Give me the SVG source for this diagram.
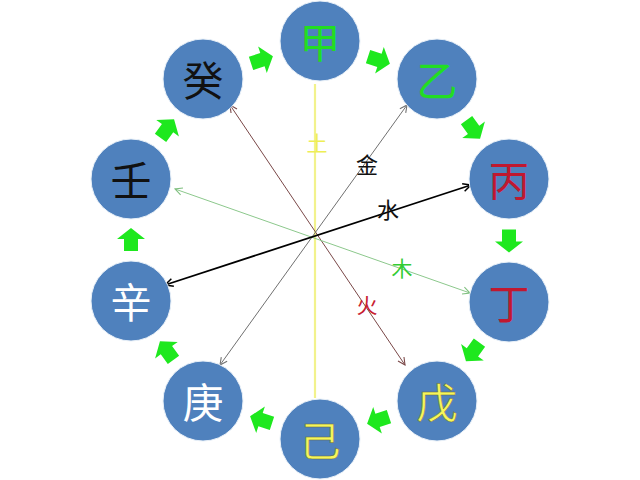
<svg xmlns="http://www.w3.org/2000/svg" width="640" height="480" viewBox="0 0 640 480">
  <style>
    .node circle { fill: #4f81bd; stroke: #e8f0f8; stroke-width: 1; }
    .node text { font-family: "Noto Sans CJK SC", "Noto Sans CJK JP", sans-serif; font-size: 41px; text-anchor: middle; dominant-baseline: central; }
    .lbl { font-family: "Noto Sans CJK SC", "Noto Sans CJK JP", sans-serif; text-anchor: middle; dominant-baseline: central; }
    .flow { fill: #1ee81e; }
    .ln { fill: none; }
  </style>
  <defs>
    <marker id="ahb" viewBox="0 0 10 10" refX="9" refY="5" markerWidth="10" markerHeight="10" markerUnits="userSpaceOnUse" orient="auto-start-reverse">
      <path d="M1,1 L9,5 L1,9" fill="none" stroke="#000" stroke-width="1.5"/>
    </marker>
    <marker id="ahbr" viewBox="0 0 10 10" refX="9" refY="5" markerWidth="9" markerHeight="9" markerUnits="userSpaceOnUse" orient="auto-start-reverse">
      <path d="M1,1 L9,5 L1,9" fill="none" stroke="#7a4848" stroke-width="1.2"/>
    </marker>
    <marker id="ahg" viewBox="0 0 10 10" refX="9" refY="5" markerWidth="9" markerHeight="9" markerUnits="userSpaceOnUse" orient="auto-start-reverse">
      <path d="M1,1 L9,5 L1,9" fill="none" stroke="#707070" stroke-width="1.2"/>
    </marker>
    <marker id="ahgr" viewBox="0 0 10 10" refX="9" refY="5" markerWidth="9" markerHeight="9" markerUnits="userSpaceOnUse" orient="auto-start-reverse">
      <path d="M1,1 L9,5 L1,9" fill="none" stroke="#7fbf7f" stroke-width="1.2"/>
    </marker>
    <path id="blk" d="M-11,-7 L1,-7 L1,-14 L12,0 L1,14 L1,7 L-11,7 Z"/>
  </defs>

  <rect width="640" height="480" fill="#ffffff"/>

  <g id="connectors">
    <line class="ln" x1="315" y1="84" x2="315" y2="398" stroke="#f2f28c" stroke-width="2.2"/>
    <line class="ln" x1="230" y1="105" x2="405" y2="365" stroke="#7a4848" stroke-width="1" marker-start="url(#ahbr)" marker-end="url(#ahbr)"/>
    <line class="ln" x1="407" y1="105" x2="220" y2="365" stroke="#707070" stroke-width="1" marker-start="url(#ahg)" marker-end="url(#ahg)"/>
    <line class="ln" x1="175" y1="189" x2="470" y2="293" stroke="#8cc88c" stroke-width="1" marker-start="url(#ahgr)" marker-end="url(#ahgr)"/>
    <line class="ln" x1="165" y1="285" x2="471" y2="185" stroke="#000000" stroke-width="1.8" marker-start="url(#ahb)" marker-end="url(#ahb)"/>

    <text class="lbl" x="317" y="142" font-size="21" fill="#eeee55">土</text>
    <text class="lbl" x="367" y="163" font-size="22" fill="#111111">金</text>
    <text class="lbl" x="388" y="208" font-size="22" fill="#111111">水</text>
    <text class="lbl" x="402" y="267" font-size="21" fill="#33cc33">木</text>
    <text class="lbl" x="367" y="304" font-size="21" fill="#c82030">火</text>

    <g id="flow-arrows" class="flow">
      <use href="#blk" transform="translate(261.5,60) rotate(-18)"/>
      <use href="#blk" transform="translate(378.5,60) rotate(18)"/>
      <use href="#blk" transform="translate(473,129) rotate(54)"/>
      <use href="#blk" transform="translate(509,240.5) rotate(90)"/>
      <use href="#blk" transform="translate(473,351.5) rotate(126)"/>
      <use href="#blk" transform="translate(378.5,420) rotate(162)"/>
      <use href="#blk" transform="translate(261.5,420) rotate(198)"/>
      <use href="#blk" transform="translate(167,351) rotate(234)"/>
      <use href="#blk" transform="translate(131,240) rotate(270)"/>
      <use href="#blk" transform="translate(167,129) rotate(306)"/>
    </g>
  </g>

  <g id="node-jia" class="node"><circle cx="320" cy="41" r="40"/><text x="320" y="40" fill="#22dd22">甲</text></g>
  <g id="node-yi" class="node"><circle cx="437" cy="79" r="40"/><text x="437" y="78" fill="#22dd22">乙</text></g>
  <g id="node-bing" class="node"><circle cx="509" cy="179" r="40"/><text x="509" y="178" fill="#c01830">丙</text></g>
  <g id="node-ding" class="node"><circle cx="509" cy="302" r="40"/><text x="509" y="301" fill="#c01830">丁</text></g>
  <g id="node-wu" class="node"><circle cx="437" cy="401" r="40"/><text x="437" y="400" fill="#f6f65a" stroke="#6a6a3a" stroke-width="0.5">戊</text></g>
  <g id="node-ji" class="node"><circle cx="320" cy="439" r="40"/><text x="320" y="438" fill="#f6f65a" stroke="#6a6a3a" stroke-width="0.5">己</text></g>
  <g id="node-geng" class="node"><circle cx="203" cy="401" r="40"/><text x="203" y="400" fill="#ffffff">庚</text></g>
  <g id="node-xin" class="node"><circle cx="131" cy="301" r="40"/><text x="131" y="300" fill="#ffffff">辛</text></g>
  <g id="node-ren" class="node"><circle cx="131" cy="179" r="40"/><text x="131" y="178" fill="#111111">壬</text></g>
  <g id="node-gui" class="node"><circle cx="203" cy="79" r="40"/><text x="203" y="78" fill="#111111">癸</text></g>
</svg>
